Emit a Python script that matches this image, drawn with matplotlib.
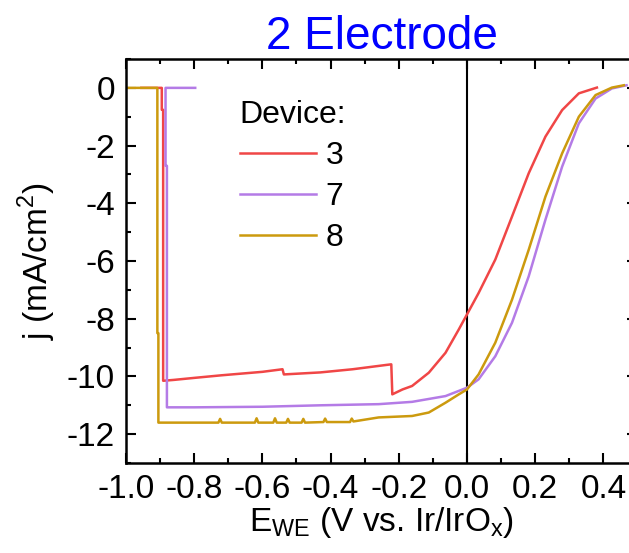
import numpy as np
import matplotlib
matplotlib.use("Agg")
import matplotlib.pyplot as plt
from matplotlib.ticker import MultipleLocator, FormatStrFormatter

plt.rcParams["font.family"] = ["Liberation Sans", "DejaVu Sans"]
plt.rcParams["axes.unicode_minus"] = False

# device 3 (red)
x3 = [-0.955, -0.895, -0.895, -0.891, -0.891, -0.86, -0.80, -0.72, -0.60, -0.541, -0.537,
      -0.43, -0.335, -0.236, -0.222, -0.219, -0.212, -0.189, -0.161, -0.112, -0.063,
      -0.024, 0.0, 0.034, 0.083, 0.132, 0.181, 0.230, 0.279, 0.328, 0.381]
j3 = [0.0, 0.0, -0.76, -0.76, -10.15, -10.12, -10.05, -9.96, -9.84, -9.75, -9.93,
      -9.86, -9.75, -9.6, -9.58, -10.62, -10.58, -10.45, -10.33, -9.87, -9.18,
      -8.37, -7.85, -7.11, -5.95, -4.46, -2.96, -1.69, -0.77, -0.19, 0.01]

# device 7 (purple)
x7 = [-0.797, -0.884, -0.884, -0.880, -0.880, -0.80, -0.60, -0.431, -0.259, -0.161,
      -0.063, 0.0, 0.034, 0.083, 0.132, 0.181, 0.230, 0.279, 0.328, 0.377, 0.425, 0.468]
j7 = [0.0, 0.0, -2.7, -2.7, -11.07, -11.07, -11.05, -11.0, -10.96, -10.88,
      -10.68, -10.39, -10.1, -9.3, -8.14, -6.53, -4.57, -2.73, -1.23, -0.37, -0.02, 0.09]

# device 8 (gold)
x8 = [-1.0, -0.908, -0.908, -0.905, -0.905, -0.80, -0.729, -0.724, -0.719, -0.622, -0.617,
      -0.612, -0.568, -0.563, -0.558, -0.530, -0.525, -0.520, -0.485, -0.480, -0.475,
      -0.421, -0.416, -0.411, -0.343, -0.338, -0.333, -0.259, -0.161, -0.112, -0.063,
      -0.024, 0.0, 0.034, 0.083, 0.132, 0.181, 0.230, 0.279, 0.328, 0.377, 0.425, 0.460]
j8 = [0.0, 0.0, -8.5, -8.5, -11.6, -11.6, -11.6, -11.47, -11.6, -11.6, -11.45,
      -11.6, -11.6, -11.45, -11.6, -11.6, -11.47, -11.6, -11.6, -11.47, -11.6,
      -11.58, -11.46, -11.58, -11.58, -11.46, -11.56, -11.42, -11.37, -11.25, -10.91,
      -10.62, -10.45, -9.93, -8.83, -7.34, -5.61, -3.77, -2.27, -1.0, -0.25, 0.01, 0.09]

devices = ["3", "7", "8"]
colors = ["#F04646", "#B47BE6", "#CC9A0E"]

fig = plt.figure(figsize=(6.29, 5.53), dpi=100)
ax = fig.add_axes([0.2003, 0.1627, 0.8132, 0.7306])

for xs, js, lab, c in zip([x3, x7, x8], [j3, j7, j8], devices, colors):
    ax.plot(xs, js, color=c, lw=1.8, label=lab)
ax.axvline(0, color="black", lw=1.5, zorder=0)

ax.set_xlim(-1.0, 0.5)
ax.set_ylim(-13, 1)
ax.xaxis.set_major_locator(MultipleLocator(0.2))
ax.xaxis.set_minor_locator(MultipleLocator(0.1))
ax.yaxis.set_major_locator(MultipleLocator(2))
ax.yaxis.set_minor_locator(MultipleLocator(1))
ax.xaxis.set_major_formatter(FormatStrFormatter("%.1f"))
ax.set_xticks([-1.0, -0.8, -0.6, -0.4, -0.2, 0.0, 0.2, 0.4])
ax.tick_params(which="both", direction="in", top=True, right=True, width=1.5, labelsize=24)
ax.tick_params(which="major", length=7, pad=8)
ax.tick_params(which="minor", length=3.5)
for s in ax.spines.values():
    s.set_linewidth(1.8)

ax.set_xlabel(r"E$_\mathregular{WE}$ (V vs. Ir/IrO$_\mathregular{x}$)", fontsize=24, labelpad=0)
ax.set_ylabel(r"j (mA/cm$^\mathregular{2}$)", fontsize=24, labelpad=6)
ax.set_title("2 Electrode", color="#0000FF", fontsize=33, pad=6)

leg = ax.legend(title="Device:", frameon=False, fontsize=23, title_fontsize=23,
                loc="upper left", bbox_to_anchor=(0.222, 0.898), borderpad=0,
                borderaxespad=0, handlelength=2.4, handletextpad=0.3, labelspacing=0.34,
                alignment="left")

plt.savefig("out.png", dpi=100)
